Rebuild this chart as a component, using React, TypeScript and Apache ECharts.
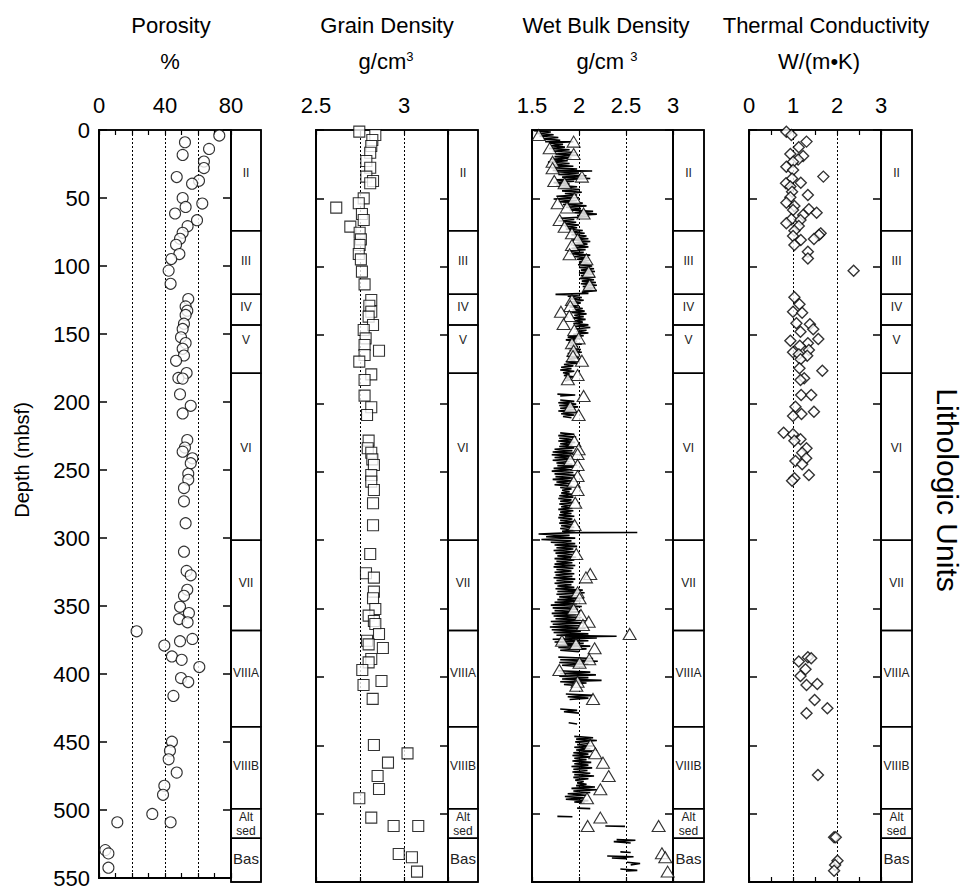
import React, { useEffect, useRef } from 'react';
import * as echarts from 'echarts';

const FONT = '"Liberation Sans", Arial, Helvetica, sans-serif';

// ---- Discrete (MAD) samples: [depth mbsf, value] ----
const porosityPoints = [
  [4.1, 72.9], [9.0, 52.1], [13.9, 66.7], [18.3, 50.7], [23.2, 63.6], [28.0, 63.6], [34.6, 47.1],
  [37.3, 60.6], [39.5, 56.4], [50.0, 50.7], [54.1, 62.6], [56.6, 52.5], [61.4, 46.1], [66.3, 59.4],
  [70.7, 53.7], [75.6, 50.7], [80.0, 49.1], [84.4, 46.7], [91.2, 48.7], [94.9, 43.8], [103.4, 42.2],
  [113.1, 43.4], [124.3, 54.1], [129.7, 52.5], [132.9, 53.5], [136.0, 52.5], [142.4, 51.5],
  [146.3, 50.7], [152.4, 49.7], [156.7, 52.5], [160.9, 50.7], [165.8, 51.5], [169.7, 46.7],
  [178.7, 53.1], [182.3, 48.1], [182.8, 50.7], [194.3, 49.1], [202.8, 55.6], [208.4, 50.7],
  [228.0, 53.5], [233.5, 52.1], [236.5, 50.7], [241.4, 56.6], [245.0, 55.6], [252.8, 54.1],
  [257.2, 54.1], [263.3, 51.5], [273.0, 51.5], [289.1, 52.5], [310.1, 51.5], [324.2, 53.1],
  [327.4, 55.6], [338.1, 53.5], [342.5, 51.5], [350.6, 49.1], [355.2, 54.5], [359.6, 48.5],
  [362.0, 53.7], [368.6, 22.8], [374.2, 56.6], [375.9, 49.1], [379.1, 39.6], [387.1, 44.2],
  [389.6, 50.1], [394.9, 60.8], [403.0, 49.7], [405.9, 54.1], [416.1, 45.1], [449.8, 44.2],
  [456.4, 43.0], [462.7, 42.2], [472.5, 47.1], [482.2, 39.6], [488.8, 38.8], [502.9, 32.3],
  [509.0, 11.1], [509.0, 43.4], [529.5, 3.8], [531.9, 5.7], [542.4, 5.7],
];

const grainDensityPoints = [
  [1.2, 2.746], [3.7, 2.837], [7.3, 2.82], [11.7, 2.814], [16.6, 2.808], [22.7, 2.786], [27.6, 2.808],
  [34.1, 2.786], [37.3, 2.824], [39.0, 2.808], [50.0, 2.771], [53.6, 2.743], [56.8, 2.615],
  [61.4, 2.761], [65.8, 2.771], [70.7, 2.695], [75.1, 2.748], [80.0, 2.755], [84.1, 2.748],
  [90.7, 2.743], [94.6, 2.755], [103.6, 2.761], [112.9, 2.776], [124.3, 2.814], [128.5, 2.803],
  [132.9, 2.814], [136.5, 2.799], [142.6, 2.824], [146.3, 2.771], [152.4, 2.782], [157.2, 2.776],
  [161.4, 2.858], [164.6, 2.776], [169.4, 2.746], [178.7, 2.814], [182.8, 2.776], [194.3, 2.776],
  [202.8, 2.814], [208.4, 2.79], [227.2, 2.799], [232.8, 2.794], [236.0, 2.814], [240.9, 2.82],
  [245.0, 2.829], [252.3, 2.814], [257.2, 2.814], [263.3, 2.829], [273.0, 2.824], [289.1, 2.824],
  [310.1, 2.808], [324.2, 2.784], [327.4, 2.829], [337.6, 2.829], [342.5, 2.824], [350.3, 2.837],
  [355.2, 2.799], [359.1, 2.829], [361.3, 2.837], [368.6, 2.858], [373.5, 2.79], [376.2, 2.799],
  [378.9, 2.88], [386.9, 2.814], [389.4, 2.799], [394.9, 2.763], [403.0, 2.872], [405.9, 2.77],
  [416.1, 2.822], [449.8, 2.829], [455.9, 3.02], [462.7, 2.909], [472.5, 2.85], [482.0, 2.858],
  [488.8, 2.746], [502.9, 2.814], [509.0, 2.941], [509.0, 3.081], [529.5, 2.97], [531.9, 3.045],
  [542.4, 3.074],
];

const wetBulkDensityPoints = [
  [3.7, 1.571], [8.5, 1.943], [13.4, 1.688], [17.6, 1.943], [23.2, 1.719], [28.0, 1.719], [34.1, 2.031],
  [37.3, 1.737], [39.0, 1.847], [50.0, 1.95], [53.6, 1.773], [56.6, 1.872], [61.0, 2.049], [65.8, 1.794],
  [70.7, 1.847], [75.6, 1.925], [80.0, 1.985], [84.1, 1.925], [90.9, 1.9], [94.6, 2.078], [103.6, 2.103],
  [113.4, 2.113], [124.3, 1.925], [128.7, 1.907], [132.9, 1.808], [136.0, 1.897], [141.9, 1.836],
  [146.3, 1.95], [152.4, 1.996], [156.0, 1.925], [161.4, 1.943], [165.3, 1.936], [168.7, 2.031],
  [179.2, 1.985], [182.3, 1.882], [194.5, 2.049], [202.4, 1.907], [208.4, 1.996], [227.5, 1.95],
  [233.5, 1.996], [237.0, 1.985], [241.4, 1.907], [245.0, 1.985], [253.1, 1.985], [257.2, 1.943],
  [263.3, 1.985], [272.6, 1.96], [288.9, 1.953], [310.1, 1.971], [324.7, 2.12], [327.2, 2.074],
  [338.1, 1.985], [342.5, 2.006], [350.6, 1.943], [354.7, 2.021], [359.6, 2.103], [362.0, 2.042],
  [368.6, 2.539], [373.5, 1.819], [375.9, 1.968], [379.1, 2.166], [387.1, 2.109], [389.6, 2.006],
  [394.9, 1.791], [403.5, 1.985], [406.4, 1.971], [416.1, 2.149], [449.8, 2.12], [455.9, 2.173],
  [462.7, 2.255], [472.5, 2.316], [482.2, 2.227], [488.8, 2.085], [502.9, 2.227], [509.0, 2.092],
  [509.0, 2.847], [529.0, 2.882], [531.9, 2.918], [542.4, 2.943],
];

// ---- Continuous GRA bulk density log: segments of [depth mbsf, g/cm3] ----
const graSegments = [
  [
    [0.5, 1.52], [1.5, 1.7], [2.5, 1.55], [3.5, 1.73], [4.5, 1.58], [5.5, 1.78], [6.5, 1.62], [7.5, 1.8],
    [8.5, 1.64], [8.6, 1.94], [9.5, 1.68], [10.5, 1.83], [11.5, 1.7], [12.5, 1.85], [13.5, 1.68], [14.5, 1.9],
    [15.5, 1.72], [16.5, 1.96], [17.5, 1.75], [18.5, 1.99], [19.5, 1.74], [20.5, 1.92], [21.5, 1.7],
    [22.5, 1.88], [23.5, 1.67], [24.5, 1.9], [25.5, 1.72], [26.5, 1.94], [27.5, 1.7], [28.5, 1.98],
    [29.5, 1.72], [30, 2.14], [30.5, 1.75], [31.5, 2.0], [32.5, 1.78], [33.5, 2.08], [34.5, 1.82],
    [35.5, 2.12], [36.5, 1.76], [37.5, 1.95], [38.5, 1.73], [39.5, 1.9], [40.5, 1.76], [41.5, 1.98],
    [42.5, 1.8], [43.5, 2.01], [44.5, 1.82], [45.5, 2.03], [46.5, 1.85], [47.5, 1.98], [48.5, 1.76],
    [49.5, 2.0], [50.5, 1.73], [51.5, 1.98], [52.5, 1.78], [53.5, 2.04], [54.5, 1.83], [55.5, 2.08],
    [56.5, 1.86], [57.5, 2.02], [58.5, 1.9], [59.5, 2.15], [60.5, 1.95], [61.5, 2.19], [62.5, 1.98],
    [63.5, 2.1], [64.5, 1.8], [65.5, 1.95], [66.5, 1.78], [67.5, 1.97], [68.5, 1.82], [69.5, 2.0],
    [70.5, 1.85], [71.5, 1.98], [72.5, 1.86], [73.5, 2.04], [74.5, 1.9], [75.5, 2.06], [76.5, 1.92],
    [77.5, 2.08], [78.5, 1.95], [79.5, 2.1], [80.5, 1.93], [81.5, 2.12], [82.5, 1.96], [83.5, 2.09],
    [84.5, 1.94], [85.5, 2.1], [86.5, 1.92], [87.5, 2.07], [88.5, 1.88], [89.5, 2.05], [90.5, 1.9],
    [91.5, 2.12], [92.5, 1.95], [93.5, 2.1], [94.5, 1.98], [95.5, 2.11], [96.5, 2.0], [97.5, 2.12],
    [98.5, 1.99], [99.5, 2.14], [100.5, 2.0], [101.5, 2.16], [102.5, 2.02], [103.5, 2.17], [104.5, 2.0],
    [105.5, 2.15], [106.5, 2.02], [107.5, 2.17], [108.5, 2.01], [109.5, 2.16], [110.5, 2.03], [111.5, 2.18],
    [112.5, 2.02], [113.5, 2.19], [114.5, 2.04], [115.5, 2.17], [116.5, 2.05], [117.5, 2.19], [118.5, 2.03],
    [119.5, 2.1], [120.2, 1.75], [120.6, 2.0], [121.5, 1.88], [122.5, 2.03], [123.5, 1.9], [124.5, 2.05],
    [125.5, 1.92], [126.5, 2.02], [127.5, 1.87], [128.5, 2.0], [129.5, 1.9], [130.5, 2.04], [131.5, 1.93],
    [132.5, 2.06], [133.5, 1.92], [134.5, 2.08], [135.5, 1.95], [136.5, 2.05], [137.5, 1.93], [138.5, 2.07],
    [139.5, 1.96], [140.5, 2.04], [141.5, 1.94], [142.5, 2.1], [143.5, 1.96], [144.5, 2.12], [145.5, 1.95],
    [146.5, 2.08], [147.5, 1.97], [148.5, 2.1], [149.5, 1.94], [150.5, 2.05], [151.5, 1.88], [152.5, 2.02],
    [153.5, 1.86], [154.5, 1.98], [155.5, 1.89], [156.5, 2.03], [157.5, 1.9], [158.5, 1.99], [159.5, 1.88],
    [160.5, 2.02], [161.5, 1.9], [162.5, 2.03], [163.5, 1.88], [164.5, 1.97], [165.5, 1.87], [166.5, 2.0],
    [167.5, 1.89], [168.5, 1.96], [169.5, 1.86], [170.5, 1.98], [171.5, 1.84], [172.5, 1.94], [173.5, 1.81],
    [174.5, 1.92], [175.5, 1.8], [176.5, 1.95], [177.5, 1.83], [178.5, 1.9], [179.5, 1.84], [180.5, 1.94],
    [181.5, 1.86], [182.5, 1.92], [183.5, 1.85],
  ],
  [[193.2, 1.77], [193.8, 1.96], [194.5, 1.8]],
  [
    [197.5, 1.8], [198.5, 1.95], [199.5, 1.78], [200.5, 1.97], [201.5, 1.79], [202.5, 1.99], [203.5, 1.8],
    [204.5, 1.96], [205.5, 1.78], [206.5, 1.98], [207.5, 1.81], [208.5, 1.95], [209.5, 1.83], [210.5, 1.92],
  ],
  [
    [221.5, 1.8], [222.5, 1.95], [223.5, 1.78], [224.5, 1.97], [225.5, 1.79], [226.5, 1.94], [227.5, 1.78],
    [228.5, 1.96], [229.5, 1.8], [230.5, 1.93], [231.5, 1.79], [232.5, 1.95], [233.5, 1.74], [234.5, 1.93],
    [235.5, 1.72], [236.5, 1.96], [237.5, 1.71], [238.5, 1.92], [239.5, 1.74], [240.5, 1.95], [241.5, 1.72],
    [242.5, 1.9], [243.5, 1.76], [244.5, 1.93], [245.5, 1.77], [246.5, 1.95], [247.5, 1.73], [248.5, 1.92],
    [249.5, 1.71], [250.5, 1.94], [251.5, 1.74], [252.5, 1.96], [253.5, 1.75], [254.5, 1.93], [255.5, 1.72],
    [256.5, 1.95], [257.5, 1.76], [258.5, 1.91], [259.5, 1.74], [260.5, 1.93], [261.5, 1.8], [262.5, 1.92],
    [263.5, 1.82], [264.5, 1.9], [265.5, 1.81], [266.5, 1.93], [267.5, 1.79], [268.5, 1.94], [269.5, 1.78],
    [270.5, 1.92], [271.5, 1.8], [272.5, 1.95], [273.5, 1.79], [274.5, 1.91], [275.5, 1.81], [276.5, 1.93],
    [277.5, 1.78], [278.5, 1.94], [279.5, 1.8], [280.5, 1.92], [281.5, 1.79], [282.5, 1.95], [283.5, 1.78],
    [284.5, 1.93], [285.5, 1.8], [286.5, 1.96], [287.5, 1.79], [288.5, 1.94], [289.5, 1.81], [290.5, 1.95],
    [291.5, 1.8], [292.5, 1.94], [293.5, 1.82], [294.3, 1.96], [294.4, 2.62], [294.5, 1.95], [295.5, 1.57],
    [296.5, 1.9], [297.5, 1.65], [298.5, 1.96], [299.5, 1.6], [300.5, 1.92], [301.5, 1.7], [302.5, 1.96],
    [303.5, 1.74], [304.5, 1.98], [305.5, 1.76], [306.5, 1.94], [307.5, 1.73], [308.5, 1.96], [309.5, 1.75],
    [310.5, 1.93], [311.5, 1.77], [312.5, 1.97], [313.5, 1.74], [314.5, 1.95], [315.5, 1.76], [316.5, 1.93],
    [317.5, 1.74], [318.5, 1.96], [319.5, 1.73], [320.5, 1.94], [321.5, 1.76], [322.5, 1.92], [323.5, 1.74],
    [324.5, 1.95], [325.5, 1.75], [326.5, 1.93], [327.5, 1.73], [328.5, 1.96], [329.5, 1.76], [330.5, 1.94],
    [331.5, 1.74], [332.5, 1.92], [333.5, 1.77], [334.5, 1.95], [335.5, 1.75], [336.5, 2.04], [337.5, 1.77],
    [338.5, 2.06], [339.5, 1.76], [340.5, 2.0], [341.5, 1.79], [342.5, 2.05], [343.5, 1.77], [344.5, 2.02],
    [345.5, 1.74], [346.5, 1.98], [347.5, 1.7], [348.5, 2.03], [349.5, 1.72], [350.5, 1.99], [351.5, 1.74],
    [352.5, 2.01], [353.5, 1.71], [354.5, 1.97], [355.5, 1.73], [356.5, 2.03], [357.5, 1.75], [358.5, 2.02],
    [359.5, 1.7], [360.5, 2.05], [361.5, 1.72], [362.5, 2.0], [363.5, 1.69], [364.5, 2.07], [365.5, 1.71],
    [366.5, 2.02], [367.5, 1.73], [368.5, 2.1], [369.5, 1.76], [370.3, 2.4], [370.8, 1.85], [371.5, 2.19],
    [372.5, 1.72], [373.5, 2.1], [374.5, 1.74], [375.5, 2.05], [376.5, 1.76], [377.5, 2.12], [378.5, 1.78],
    [379.5, 2.08], [380.5, 1.8], [381.5, 2.0],
  ],
  [[385.5, 1.78], [386.5, 2.15], [387.5, 1.8], [388.5, 2.2], [389.5, 1.79], [390.5, 2.1], [391.5, 1.82], [392.5, 2.05]],
  [
    [395.5, 1.78], [396.5, 2.12], [397.5, 1.8], [398.5, 2.18], [399.5, 1.79], [400.5, 2.1], [401.5, 1.82],
    [402.5, 2.24], [403.5, 1.8], [404.5, 2.08], [405.5, 1.84], [406.5, 2.0],
  ],
  [[412.5, 1.86], [413.5, 2.15], [414.5, 1.88], [415.5, 2.1], [416.5, 1.9]],
  [[423.5, 1.8], [424.5, 1.98], [425.5, 1.84], [426.5, 2.0]],
  [[433.5, 1.89], [434.5, 1.98]],
  [
    [443.5, 1.95], [444.5, 2.15], [445.5, 1.97], [446.5, 2.19], [447.5, 1.96], [448.5, 2.12], [449.5, 1.98],
    [450.5, 2.16], [451.5, 1.95], [452.5, 2.12], [453.5, 1.97], [454.5, 2.14], [455.5, 1.94], [456.5, 2.1],
    [457.5, 1.93], [458.5, 2.12], [459.5, 1.95], [460.5, 2.08], [461.5, 1.93], [462.5, 2.13], [463.5, 1.95],
    [464.5, 2.1], [465.5, 1.92], [466.5, 2.14], [467.5, 1.94], [468.5, 2.09], [469.5, 1.93], [470.5, 2.12],
    [471.5, 1.95], [472.5, 2.16], [473.5, 1.94], [474.5, 2.1], [475.5, 1.96], [476.5, 2.05], [477.5, 1.98],
    [478.5, 2.08], [479.5, 1.97], [480.5, 2.17], [481.5, 1.92], [482.5, 2.19], [483.5, 1.94], [484.5, 2.12],
    [485.5, 1.88], [486.5, 2.08], [487.5, 1.85], [488.5, 2.05], [489.5, 1.86], [490.5, 2.1], [491.5, 1.95],
    [492, 2.06],
  ],
  [[496, 1.98], [496.3, 2.12]],
  [[502, 1.77], [502.3, 1.93]],
  [[509, 2.28], [509.3, 2.49]],
  [[519, 2.4], [519.5, 2.6], [520.5, 2.37], [521.5, 2.55]],
  [[528, 2.44], [528.4, 2.55]],
  [[531, 2.3], [531.5, 2.58], [532.5, 2.35], [533, 2.5]],
  [[535.5, 2.51], [536.5, 2.65], [537.5, 2.55]],
  [[540.5, 2.44], [541.5, 2.62], [542, 2.5]],
];

const thermalConductivityPoints = [
  [1.2, 0.849], [3.7, 0.963], [8.5, 1.307], [12.7, 1.131], [17.6, 0.94], [19.0, 1.231], [21.5, 1.116],
  [23.2, 1.001], [26.8, 0.849], [29.3, 1.001], [34.1, 1.69], [35.4, 0.979], [38.5, 1.177], [39.0, 0.841],
  [41.4, 0.94], [45.1, 0.979], [47.5, 1.338], [49.2, 0.94], [53.2, 0.849], [55.6, 1.032], [58.0, 1.361],
  [58.5, 1.001], [60.5, 1.537], [62.2, 1.231], [65.3, 0.963], [65.8, 1.17], [68.2, 0.849], [70.2, 1.131],
  [73.6, 1.032], [75.6, 1.628], [76.8, 1.59], [77.5, 1.001], [79.7, 1.476], [80.4, 1.177], [84.1, 1.032],
  [89.0, 1.338], [93.9, 1.338], [102.9, 2.378], [122.4, 1.032], [127.5, 1.147], [132.9, 1.001],
  [133.6, 1.208], [141.4, 1.078], [142.1, 1.384], [145.8, 1.46], [147.5, 1.17], [152.9, 1.575],
  [154.1, 0.94], [156.0, 1.338], [157.8, 1.154], [160.9, 1.361], [162.6, 1.001], [164.1, 1.131],
  [165.1, 1.323], [167.7, 1.17], [174.3, 1.147], [176.0, 1.667], [181.6, 1.254], [182.8, 1.17],
  [193.8, 1.185], [193.8, 1.414], [202.4, 1.055], [206.0, 1.476], [207.7, 1.193], [209.2, 1.001],
  [221.4, 0.787], [222.6, 1.001], [226.2, 1.17], [227.2, 1.032], [232.8, 1.307], [236.0, 1.208],
  [240.1, 1.3], [242.1, 1.055], [244.5, 1.208], [252.3, 1.361], [254.7, 1.032], [256.5, 0.979],
  [385.7, 1.338], [386.4, 1.414], [388.8, 1.131], [394.4, 1.284], [399.3, 1.17], [405.2, 1.552],
  [405.9, 1.307], [416.9, 1.491], [422.9, 1.781], [426.6, 1.307], [471.7, 1.567], [517.3, 1.934],
  [517.3, 1.972], [534.4, 2.011], [537.6, 1.957], [541.7, 1.934],
];

// ---- Lithologic units: [top, bottom, label depth] ----
const unitNames = ['II', 'III', 'IV', 'V', 'VI', 'VII', 'VIIIA', 'VIIIB', 'Alt\nsed', 'Bas'];
const unitIntervals = [
  [0, 73.6, 31.6], [73.6, 120.2, 96], [120.2, 142.6, 129.5], [142.6, 178, 153.6], [178, 300, 232.6],
  [300, 366, 331], [366, 436.5, 397], [436.5, 496.5, 465], [496.5, 518, 507.7], [518, 550, 533],
];

// ---- Panel layout (pixels) ----
const TOP = 130;
const HEIGHT = 752;
const panels = [
  { left: 99, width: 132, unitWidth: 30, min: 0, max: 80, interval: 20, minor: true, labels: [0, 40, 80] },
  { left: 316, width: 132, unitWidth: 30, min: 2.5, max: 3.25, interval: 0.25, minor: false, labels: [2.5, 3] },
  { left: 532, width: 141, unitWidth: 31, min: 1.5, max: 3, interval: 0.5, minor: false, labels: [1.5, 2, 2.5, 3] },
  { left: 749, width: 132, unitWidth: 31, min: 0, max: 3, interval: 1, minor: true, labels: [0, 1, 2, 3] },
];

const titles = [
  { x: 171, ux: 170, name: 'Porosity', unit: '%' },
  { x: 387, ux: 386, name: 'Grain Density', unit: 'g/cm{sup|3}' },
  { x: 606, ux: 607, name: 'Wet Bulk Density', unit: 'g/cm {sup|3}' },
  { x: 826, ux: 819, name: 'Thermal Conductivity', unit: 'W/(m•K)' },
];

function buildOption() {
  const grid: any[] = [];
  const xAxis: any[] = [];
  const yAxis: any[] = [];
  const series: any[] = [];

  const black = '#000';

  panels.forEach((p, i) => {
    grid.push({ left: p.left, top: TOP, width: p.width, height: HEIGHT, show: true, borderColor: black, borderWidth: 1.5 });
    const showLabel = (v: number) => p.labels.some((l) => Math.abs(l - v) < 1e-6);
    const base = {
      type: 'value', gridIndex: i, min: p.min, max: p.max, interval: p.interval,
      axisLine: { show: true, lineStyle: { color: black, width: 1.5 } },
      axisTick: { show: true, inside: true, length: 5, lineStyle: { color: black, width: 1.2 } },
      minorTick: { show: p.minor, splitNumber: 2, length: 5, lineStyle: { color: black, width: 1.2 } },
    };
    xAxis.push({
      ...base, position: 'top',
      axisLabel: {
        show: true, margin: 14, fontSize: 22, color: black, fontFamily: FONT,
        showMinLabel: true, showMaxLabel: true,
        formatter: (v: number) => (showLabel(v) ? String(+v.toFixed(2)) : ''),
      },
      splitLine: { show: true, showMinLine: false, showMaxLine: false, lineStyle: { color: black, width: 1, type: [2, 2] } },
    });
    xAxis.push({
      ...base, position: 'bottom',
      axisLine: { show: true, onZero: false, lineStyle: { color: black, width: 2 } },
      axisLabel: { show: false }, splitLine: { show: false },
    });

    const yBase = {
      type: 'value', gridIndex: i, inverse: true, min: 0, max: 550, interval: 50,
      axisTick: { show: true, inside: true, length: 8, lineStyle: { color: black, width: 1.5 } },
      splitLine: { show: false },
    };
    yAxis.push({
      ...yBase, position: 'left',
      axisLine: { show: true, onZero: false, lineStyle: { color: black, width: 2 } },
      axisLabel: { show: i === 0, margin: 9, fontSize: 22, color: black, fontFamily: FONT, showMinLabel: true, showMaxLabel: true },
    });
    yAxis.push({
      ...yBase, position: 'right',
      axisLine: { show: true, onZero: false, lineStyle: { color: black, width: 1.5 } },
      axisLabel: { show: false },
    });
  });

  // Lithologic unit columns beside each panel
  panels.forEach((p, i) => {
    grid.push({ left: p.left + p.width, top: TOP, width: p.unitWidth, height: HEIGHT, show: true, borderColor: black, borderWidth: 1.5 });
    xAxis.push({ type: 'value', gridIndex: 4 + i, min: 0, max: 1, show: false });
    yAxis.push({ type: 'value', gridIndex: 4 + i, inverse: true, min: 0, max: 550, show: false });
    series.push({
      type: 'custom',
      xAxisIndex: 8 + i,
      yAxisIndex: 8 + i,
      clip: false,
      data: unitIntervals,
      renderItem: (params: any, api: any) => {
        const top = api.value(0);
        const bottom = api.value(1);
        const labelDepth = api.value(2);
        const p0 = api.coord([0, top]);
        const p1 = api.coord([1, bottom]);
        const pl = api.coord([0.5, labelDepth]);
        const name = unitNames[params.dataIndex];
        const size = name === 'Bas' ? 15 : 12;
        return {
          type: 'group',
          children: [
            {
              type: 'rect',
              shape: { x: p0[0], y: p0[1], width: p1[0] - p0[0], height: p1[1] - p0[1] },
              style: { fill: 'none', stroke: black, lineWidth: 1.5 },
            },
            {
              type: 'text',
              x: pl[0],
              y: pl[1],
              style: {
                text: name, fontSize: size, fontFamily: FONT, fill: '#222',
                align: 'center', verticalAlign: 'middle', lineHeight: 14,
              },
            },
          ],
        };
      },
    });
  });

  const hollow = { color: '#fff', borderColor: black, borderWidth: 1.1 };

  series.push({
    type: 'scatter', xAxisIndex: 0, yAxisIndex: 0, symbol: 'circle', symbolSize: 11,
    itemStyle: hollow, data: porosityPoints.map(([d, v]) => [v, d]), z: 3,
  });
  series.push({
    type: 'scatter', xAxisIndex: 2, yAxisIndex: 2, symbol: 'rect', symbolSize: 11,
    itemStyle: hollow, data: grainDensityPoints.map(([d, v]) => [v, d]), z: 3,
  });
  graSegments.forEach((seg) => {
    series.push({
      type: 'line', xAxisIndex: 4, yAxisIndex: 4, showSymbol: false, symbol: 'none',
      lineStyle: { color: black, width: 1.6 }, data: seg.map(([d, v]) => [v, d]), z: 2,
    });
  });
  series.push({
    type: 'scatter', xAxisIndex: 4, yAxisIndex: 4, symbol: 'triangle', symbolSize: [13, 11],
    itemStyle: hollow, data: wetBulkDensityPoints.map(([d, v]) => [v, d]), z: 3,
  });
  series.push({
    type: 'scatter', xAxisIndex: 6, yAxisIndex: 6, symbol: 'diamond', symbolSize: [11, 11],
    itemStyle: { ...hollow, borderWidth: 1.4 }, data: thermalConductivityPoints.map(([d, v]) => [v, d]), z: 3,
  });

  const graphic: any[] = [];
  titles.forEach((t) => {
    graphic.push({
      type: 'text', x: t.x, y: 25,
      style: { text: t.name, fontSize: 22, fontFamily: FONT, fill: black, align: 'center', verticalAlign: 'middle' },
    });
    graphic.push({
      type: 'text', x: t.ux, y: 61,
      style: {
        text: t.unit, fontSize: 22, fontFamily: FONT, fill: black, align: 'center', verticalAlign: 'middle',
        rich: { sup: { fontSize: 13, fontFamily: FONT, verticalAlign: 'top', fill: black } },
      },
    });
  });
  graphic.push({
    type: 'text', x: 22, y: 460, rotation: Math.PI / 2,
    style: { text: 'Depth (mbsf)', fontSize: 20, fontFamily: FONT, fill: black, align: 'center', verticalAlign: 'middle' },
  });
  graphic.push({
    type: 'text', x: 947, y: 490, rotation: -Math.PI / 2,
    style: { text: 'Lithologic Units', fontSize: 30, fontFamily: FONT, fill: black, align: 'center', verticalAlign: 'middle' },
  });

  return {
    animation: false,
    backgroundColor: '#fff',
    textStyle: { fontFamily: FONT },
    grid,
    xAxis,
    yAxis,
    series,
    graphic,
  };
}

export default function App() {
  const ref = useRef<HTMLDivElement>(null);
  useEffect(() => {
    document.body.style.margin = '0';
    if (!ref.current) return;
    const chart = echarts.init(ref.current, undefined, { renderer: 'svg' });
    chart.setOption(buildOption() as any);
    return () => chart.dispose();
  }, []);
  return <div ref={ref} style={{ width: 965, height: 889 }} />;
}
